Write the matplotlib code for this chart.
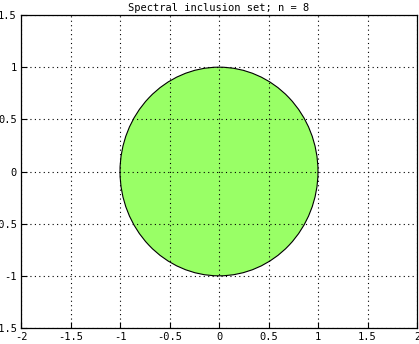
import numpy as np
import matplotlib
matplotlib.use('Agg')
import matplotlib.pyplot as plt
from matplotlib.patches import Circle

# spectral inclusion set (one disc)
center = (0.0, 0.0)
radius = 1.0
xticks = [-2, -1.5, -1, -0.5, 0, 0.5, 1, 1.5, 2]
yticks = [-1.5, -1, -0.5, 0, 0.5, 1, 1.5]
title = 'Spectral inclusion set; n = 8'

plt.rcParams['font.family'] = 'DejaVu Sans Mono'
fig = plt.figure(figsize=(4.19, 3.44), dpi=100)
ax = fig.add_axes([21/419, 16/344, 396/419, 313/344])

ax.add_patch(Circle(center, radius, facecolor='#99ff66', edgecolor='black', linewidth=0.8))

ax.set_xlim(-2, 2)
ax.set_ylim(-1.5, 1.5)
ax.set_xticks(xticks)
ax.set_yticks(yticks)
ax.set_xticklabels([('%g' % t) for t in xticks])
ax.set_yticklabels([('%g' % t) for t in yticks])
ax.grid(True, color='black', linestyle=(0, (1, 3)), linewidth=0.8)
ax.tick_params(direction='in', length=4, labelsize=7.5, pad=3, width=0.8)
for s in ax.spines.values():
    s.set_linewidth(0.9)
ax.set_title(title, fontsize=7.5, pad=3)

fig.savefig('out.png', dpi=100)
